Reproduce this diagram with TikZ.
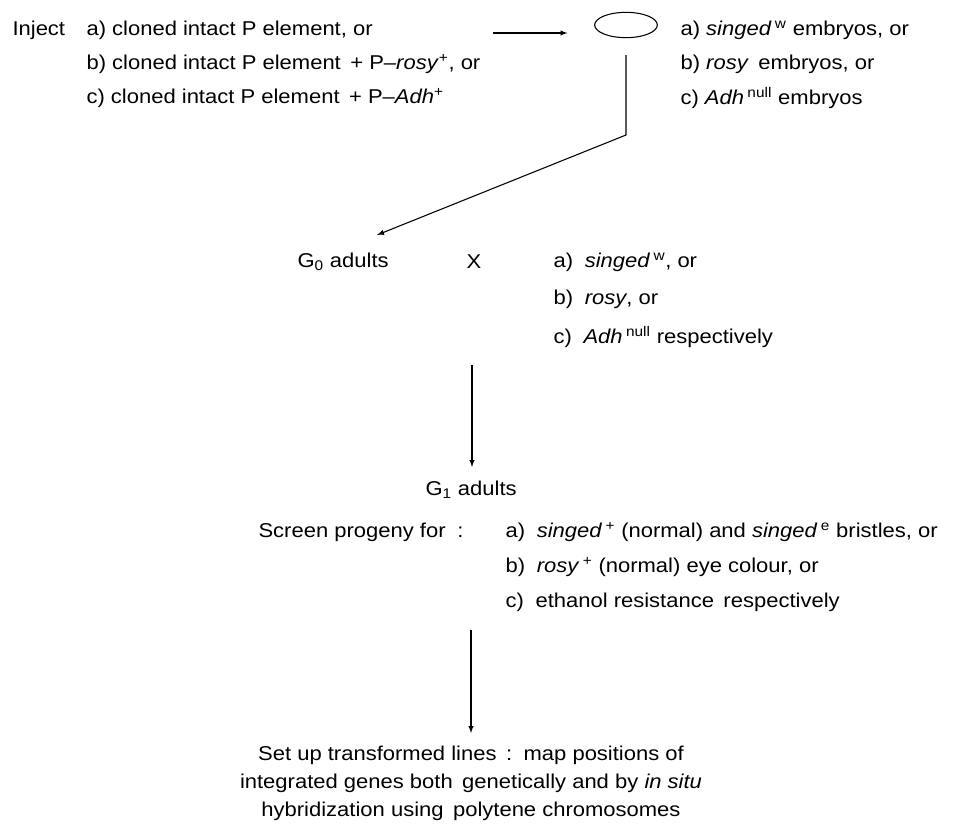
\documentclass[tikz,border=0pt]{standalone}
\usepackage{fontspec}
\setmainfont{Liberation Sans}[FakeStretch=1.1]
\usetikzlibrary{positioning,shapes.geometric}

\tikzset{
  txt/.style={anchor=west,inner sep=0pt,font=\fontsize{15}{18}\selectfont},
  ctxt/.style={inner sep=0pt,align=center,font=\fontsize{15}{21}\selectfont},
}
\newcommand{\sng}[1]{\textit{singed}\,\textsuperscript{#1}}

\begin{document}
\begin{tikzpicture}[>=latex,x=0.75pt,y=-0.75pt,line width=0.8pt]
\useasboundingbox (0,0) rectangle (953,828);
% injection
\node[txt] (inject) at (12,30) {Inject};
\node[txt] (injA) at (86,30) {a) cloned intact P element, or};
\node[txt] (injB) at (86,64) {b) cloned intact P element \,+ P\textendash\textit{rosy}\textsuperscript{+}, or};
\node[txt] (injC) at (86,98) {c) cloned intact P element \,+ P\textendash\textit{Adh}\textsuperscript{+}};
\node[draw,ellipse,minimum width=47pt,minimum height=19pt,inner sep=0pt] (egg) at (626,25) {};
\node[txt] (embA) at (680,30) {a) \sng{w} embryos, or};
\node[txt] (embB) at (680,64) {b) \textit{rosy}\, embryos, or};
\node[txt] (embC) at (680,98) {c) \textit{Adh}\,\textsuperscript{null} embryos};
\coordinate (inj0) at (493,33);
\draw[->,shorten >=20pt] (inj0) -- (inj0 -| egg.west);
% G0 cross
\node[txt] (g0) at (297,262) {G\textsubscript{0} adults};
\node[txt] (cross) at (466,262) {X};
\node[txt] (xA) at (553,262) {a)\; \sng{w}, or};
\node[txt] (xB) at (553,299) {b)\; \textit{rosy}, or};
\node[txt] (xC) at (553,337) {c)\; \textit{Adh}\,\textsuperscript{null} respectively};
\coordinate (drop0) at (626,55);
\coordinate (drop1) at (626,135);
\coordinate (g0tip) at (377,235);
\draw[->] (drop0) -- (drop1) -- (g0tip);
% G1 screen
\coordinate (g1top) at (472,365);
\node[txt] (g1) at (425,490) {G\textsubscript{1} adults};
\draw[->] (g1top) -- (g1top |- 0,467);
\node[txt] (screen) at (258,532) {Screen progeny for \;:\;};
\node[txt] (scA) at (505,532) {a)\; \sng{+} (normal) and \sng{e} bristles, or};
\node[txt] (scB) at (505,567) {b)\; \textit{rosy}\,\textsuperscript{+} (normal) eye colour, or};
\node[txt] (scC) at (505,602) {c)\; ethanol resistance\, respectively};
% transformed lines
\coordinate (sc0) at (471,630);
\node[ctxt,anchor=north] (lines) at (471,745) {Set up transformed lines \,:\, map positions of\\
integrated genes both\, genetically and by \textit{in situ}\\
hybridization using\, polytene chromosomes};
\draw[->] (sc0) -- (sc0 |- 0,733);
\end{tikzpicture}
\end{document}
